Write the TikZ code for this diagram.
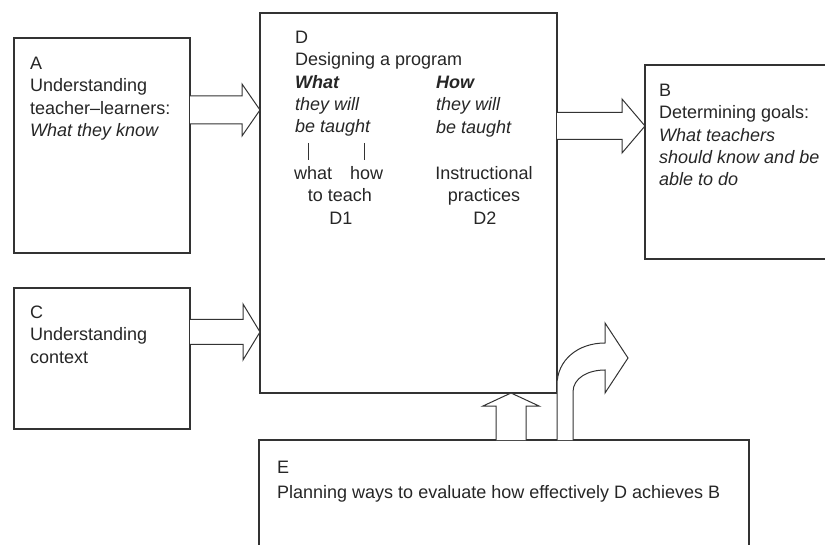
\documentclass[tikz,border=0pt]{standalone}
\usepackage{fontspec}
\setmainfont{Liberation Sans}
\usetikzlibrary{calc}
\tikzset{
  box/.style={draw=black!80, line width=1.3pt, rectangle, inner sep=0pt, outer sep=0pt},
  txt/.style={anchor=base west, inner sep=0pt, align=left, text=black!85,
              font=\fontsize{18}{22.3}\selectfont},
  ctxt/.style={anchor=base, inner sep=0pt, align=center, text=black!85,
              font=\fontsize{18}{22.3}\selectfont},
  blk/.style={draw=black!80, line width=1pt, fill=white, line join=miter},
  tick/.style={draw=black!80, line width=0.9pt}
}
\newcommand\rblock[5]{%
  \draw[blk] let \p1=#1, \p2=#2 in
    (\x1,\y1+#3) -- (\x2-#5,\y1+#3) -- (\x2-#5,\y1+#4) -- (\x2,\y1)
    -- (\x2-#5,\y1-#4) -- (\x2-#5,\y1-#3) -- (\x1,\y1-#3);}
\begin{document}
\begin{tikzpicture}[x=1pt,y=-1pt]
\useasboundingbox (0,0) rectangle (825,545);
\clip (0,0) rectangle (825,545);

% boxes
\node[box, minimum width=176pt, minimum height=215pt] (A) at (102,145.5) {};
\node[box, minimum width=176pt, minimum height=141pt] (C) at (102,358.5) {};
\node[box, minimum width=297pt, minimum height=380pt] (D) at (408.5,203) {};
\node[box, minimum width=190pt, minimum height=194pt] (B) at (740,162) {};
\node[box, minimum width=490pt, minimum height=160pt] (E) at (504,520) {};

% texts (anchored at the baseline of their last line)
\node[txt] (At) at (30,136.4) {A\\Understanding\\teacher–learners:\\\textit{What they know}};
\node[txt] (Ct) at (30,363.1) {C\\Understanding\\context};
\node[txt] (Bt) at (659,185.7) {B\\Determining goals:\\\textit{What teachers}\\\textit{should know and be}\\\textit{able to do}};
\node[txt] (Et) at (277,498.8) {E\\[3pt]Planning ways to evaluate how effectively D achieves B};

\node[txt] (Dt) at (295,132.7) {D\\Designing a program\\\textbf{\textit{What}}\\\textit{they will}\\\textit{be taught}};
\node[txt] (Ht) at (436,133.1) {\textbf{\textit{How}}\\\textit{they will}\\\textit{be taught}};
\node[txt] (what) at (294,179.5) {what};
\node[txt] (how) at (350,179.5) {how};
\node[ctxt] (teach) at (340,201.5) {to teach};
\node[ctxt] (D1) at (341,224.5) {D1};
\node[ctxt] (instr) at (484,201.5) {Instructional\\practices};
\node[ctxt] (D2) at (485,224.5) {D2};

\draw[tick] (308,143) -- (308,160);
\draw[tick] (364,143) -- (364,160);

% arrow levels
\coordinate (ya) at (0,110);
\coordinate (yc) at (0,332);
\coordinate (yb) at (0,126);
\coordinate (ux) at (511,0);

\rblock{(A.east |- ya)}{(D.west)}{14pt}{26pt}{18pt}
\rblock{(C.east |- yc)}{(D.west)}{12.5pt}{28pt}{17pt}
\rblock{(D.east |- yb)}{(B.west)}{13.5pt}{27pt}{23pt}

% up arrow E -> D
\draw[blk] let \p1=(E.north -| ux), \p2=(D.south) in
  (\x1-15pt,\y1) -- (\x1-15pt,\y2-13pt) -- (\x1-28pt,\y2-13pt) -- (\x1,\y2)
  -- (\x1+28pt,\y2-13pt) -- (\x1+15pt,\y2-13pt) -- (\x1+15pt,\y1);

% curved arrow out of E
\draw[blk] let \p1=(D.south east), \p2=(E.north) in
  (\x1,\y2) -- (\x1,\y2+55pt)
  .. controls (\x1,\y2+80pt) and (\x1+21pt,\y2+97pt) .. (\x1+48pt,\y2+97pt)
  -- (\x1+48pt,\y2+117pt) -- (\x1+71pt,\y2+82pt) -- (\x1+48pt,\y2+47pt)
  -- (\x1+48pt,\y2+70pt)
  .. controls (\x1+31pt,\y2+70pt) and (\x1+16pt,\y2+62pt) .. (\x1+16pt,\y2+48pt)
  -- (\x1+16pt,\y2);
\end{tikzpicture}
\end{document}
